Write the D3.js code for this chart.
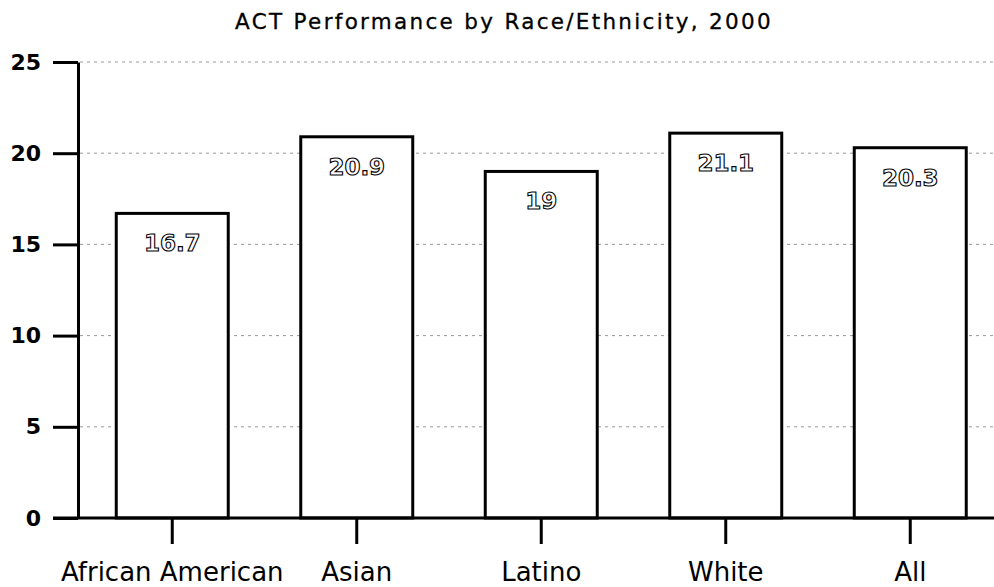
<!DOCTYPE html>
<html>
<head>
<meta charset="utf-8">
<script src="https://cdn.jsdelivr.net/npm/d3@7"></script>
<style>
  body { margin: 0; background: #fff; }
  svg { display: block; }
</style>
</head>
<body>
<div id="chart"></div>
<script>
const categories = ['African American', 'Asian', 'Latino', 'White', 'All'];
const scores = [16.7, 20.9, 19, 21.1, 20.3];
const scoreLabels = ['16.7', '20.9', '19', '21.1', '20.3'];
const yTicks = [0, 5, 10, 15, 20, 25];
const title = 'ACT Performance by Race/Ethnicity, 2000';

const width = 994;
const height = 587;
const fontFamily = '"DejaVu Sans", Verdana, sans-serif';

const svg = d3.select('#chart')
    .append('svg')
    .attr('width', width)
    .attr('height', height);

const x = d3.scaleBand()
    .domain(categories)
    .range([80, 1002.5])
    .paddingInner(0.393)
    .paddingOuter(0.1965);

const y = d3.scaleLinear()
    .domain([0, 25])
    .range([518, 62]);

// title
svg.append('text')
    .attr('x', 504)
    .attr('y', 29)
    .attr('text-anchor', 'middle')
    .style('font-family', fontFamily)
    .style('font-size', '21.5px')
    .style('letter-spacing', '2.3px')
    .attr('stroke', '#000')
    .attr('stroke-width', 0.3)
    .text(title);

// grid lines
svg.append('g')
    .selectAll('line')
    .data(yTicks.filter((d) => d > 0))
    .enter()
    .append('line')
    .attr('x1', 80)
    .attr('x2', width)
    .attr('y1', (d) => y(d))
    .attr('y2', (d) => y(d))
    .attr('stroke', '#999')
    .attr('stroke-width', 1)
    .attr('stroke-dasharray', '3,4');

// bars
svg.append('g')
    .selectAll('rect')
    .data(categories)
    .enter()
    .append('rect')
    .attr('x', (d) => x(d))
    .attr('y', (d, i) => y(scores[i]))
    .attr('width', x.bandwidth())
    .attr('height', (d, i) => y(0) - y(scores[i]))
    .attr('fill', '#fff')
    .attr('stroke', '#000')
    .attr('stroke-width', 3);

// value labels, outlined
svg.append('g')
    .selectAll('text')
    .data(categories)
    .enter()
    .append('text')
    .attr('x', (d) => x(d) + x.bandwidth() / 2)
    .attr('y', (d, i) => y(scores[i]) + 38)
    .attr('text-anchor', 'middle')
    .style('font-family', fontFamily)
    .style('font-size', '23px')
    .style('font-weight', 'bold')
    .attr('fill', '#fff')
    .attr('stroke', '#000')
    .attr('stroke-width', 1.1)
    .text((d, i) => scoreLabels[i]);

// y axis
const yAxis = d3.axisLeft(y)
    .tickValues(yTicks)
    .tickSize(25)
    .tickPadding(12)
    .tickSizeOuter(0);

const yg = svg.append('g')
    .attr('transform', 'translate(78,0)')
    .call(yAxis);
yg.select('.domain').attr('stroke', '#000').attr('stroke-width', 3);
yg.selectAll('.tick line').attr('stroke', '#000').attr('stroke-width', 3);
yg.selectAll('.tick text')
    .style('font-family', fontFamily)
    .style('font-size', '22px')
    .style('font-weight', 'bold')
    .attr('fill', '#000');

// x axis
const xAxis = d3.axisBottom(x)
    .tickSize(26)
    .tickPadding(19)
    .tickSizeOuter(0);

const xg = svg.append('g')
    .attr('transform', 'translate(0,518)')
    .call(xAxis);
xg.select('.domain').remove();
xg.append('line')
    .attr('x1', 53)
    .attr('x2', width)
    .attr('stroke', '#000')
    .attr('stroke-width', 3);
xg.selectAll('.tick line').attr('stroke', '#000').attr('stroke-width', 3);
xg.selectAll('.tick text')
    .style('font-family', fontFamily)
    .style('font-size', '26px')
    .attr('fill', '#000');
</script>
</body>
</html>
